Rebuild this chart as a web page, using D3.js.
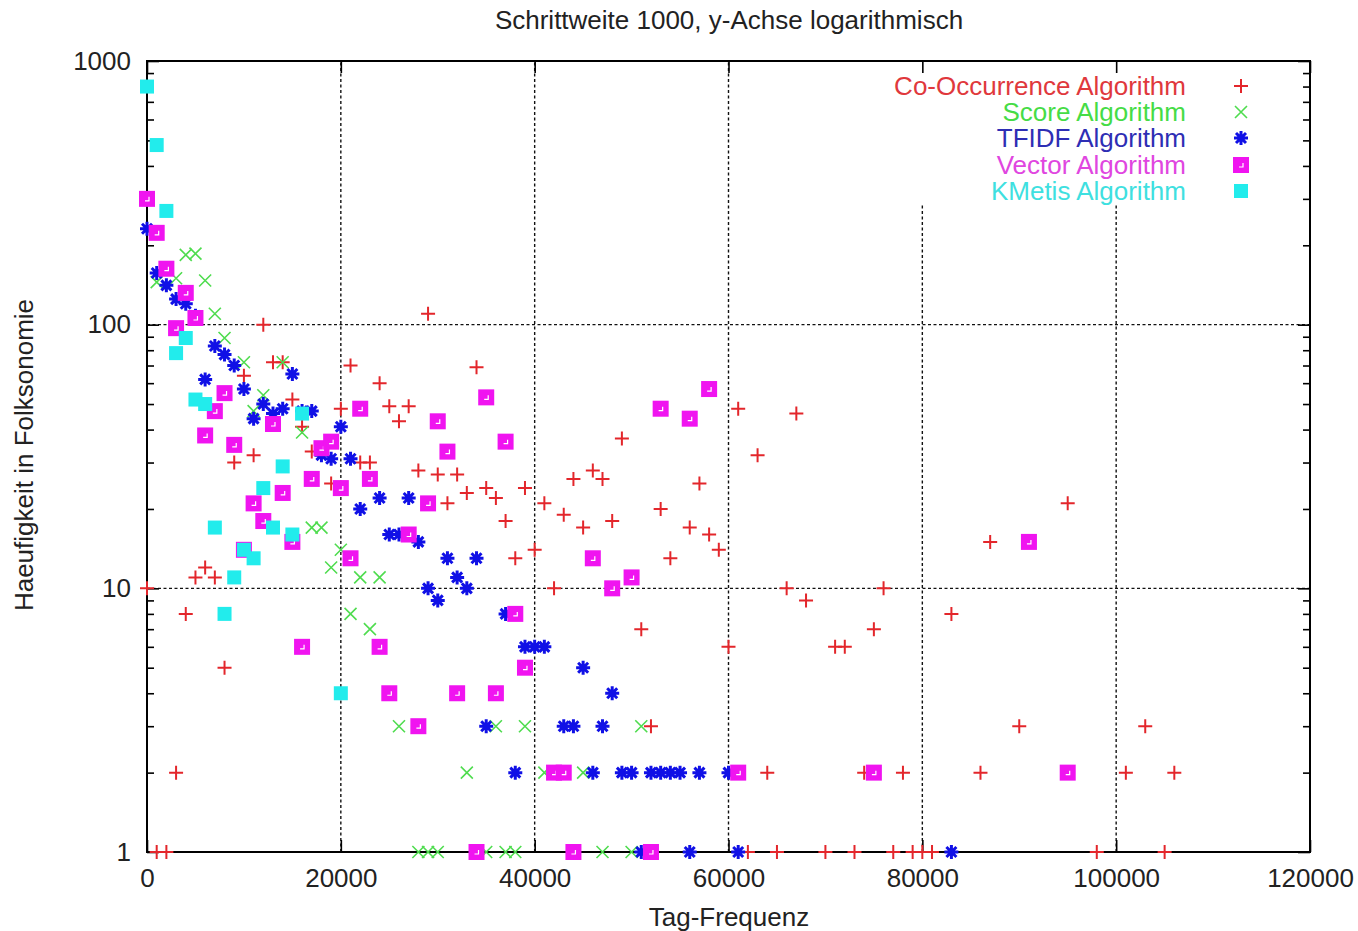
<!DOCTYPE html>
<html><head><meta charset="utf-8">
<script src="https://cdn.jsdelivr.net/npm/d3@7"></script>
<style>
body{margin:0;background:#fff}
svg{display:block}
text{font-family:"Liberation Sans",Arial,Helvetica,sans-serif}
</style>
</head><body>
<svg id="chart" width="1358" height="931"></svg>
<script>
// ---- data (x = Tag-Frequenz, y = Haeufigkeit) ----
const coOccurrence = [[0,10],[1000,1],[2000,1],[3000,2],[4000,8],[5000,11],[6000,12],[7000,11],[8000,5],[9000,30],[10000,64],[11000,32],[12000,100],[13000,72],[14000,72],[15000,52],[16000,41],[17000,33],[19000,25],[20000,48],[21000,70],[22000,30],[23000,30],[24000,60],[25000,49],[26000,43],[27000,49],[28000,28],[29000,110],[30000,27],[31000,21],[32000,27],[33000,23],[34000,69],[35000,24],[36000,22],[37000,18],[38000,13],[39000,24],[40000,14],[41000,21],[42000,10],[43000,19],[44000,26],[45000,17],[46000,28],[47000,26],[48000,18],[49000,37],[51000,7],[52000,3],[53000,20],[54000,13],[56000,17],[57000,25],[58000,16],[59000,14],[60000,6],[61000,48],[62000,1],[63000,32],[64000,2],[65000,1],[66000,10],[67000,46],[68000,9],[70000,1],[71000,6],[72000,6],[73000,1],[74000,2],[75000,7],[76000,10],[77000,1],[78000,2],[79000,1],[80000,1],[81000,1],[83000,8],[86000,2],[87000,15],[90000,3],[95000,21],[98000,1],[101000,2],[103000,3],[105000,1],[106000,2]];
const score = [[1000,145],[3000,150],[4000,184],[5000,186],[6000,147],[7000,110],[8000,89],[10000,72],[11000,47],[12000,54],[14000,72],[16000,39],[17000,17],[18000,17],[19000,12],[20000,14],[21000,8],[22000,11],[23000,7],[24000,11],[26000,3],[28000,1],[29000,1],[30000,1],[33000,2],[35000,1],[36000,3],[37000,1],[38000,1],[39000,3],[41000,2],[45000,2],[47000,1],[50000,1],[51000,3]];
const tfidf = [[0,231],[1000,157],[2000,141],[3000,125],[4000,120],[5000,108],[6000,62],[7000,83],[8000,77],[9000,70],[10000,57],[11000,44],[12000,50],[13000,46],[14000,48],[15000,65],[16000,47],[17000,47],[18000,32],[19000,31],[20000,41],[21000,31],[22000,20],[24000,22],[25000,16],[26000,16],[27000,22],[28000,15],[29000,10],[30000,9],[31000,13],[32000,11],[33000,10],[34000,13],[35000,3],[37000,8],[38000,2],[39000,6],[40000,6],[41000,6],[43000,3],[44000,3],[45000,5],[46000,2],[47000,3],[48000,4],[49000,2],[50000,2],[51000,1],[52000,2],[53000,2],[54000,2],[55000,2],[56000,1],[57000,2],[60000,2],[61000,1],[83000,1]];
const vector = [[0,300],[1000,223],[2000,163],[3000,97],[4000,132],[5000,106],[6000,38],[7000,47],[8000,55],[9000,35],[10000,14],[11000,21],[12000,18],[13000,42],[14000,23],[15000,15],[16000,6],[17000,26],[18000,34],[19000,36],[20000,24],[21000,13],[22000,48],[23000,26],[24000,6],[25000,4],[27000,16],[28000,3],[29000,21],[30000,43],[31000,33],[32000,4],[34000,1],[35000,53],[36000,4],[37000,36],[38000,8],[39000,5],[42000,2],[43000,2],[44000,1],[46000,13],[48000,10],[50000,11],[52000,1],[53000,48],[56000,44],[58000,57],[61000,2],[75000,2],[91000,15],[95000,2]];
const kmetis = [[0,800],[1000,480],[2000,270],[3000,78],[4000,89],[5000,52],[6000,50],[7000,17],[8000,8],[9000,11],[10000,14],[11000,13],[12000,24],[13000,17],[14000,29],[15000,16],[16000,46],[20000,4]];

const seriesNames = ["Co-Occurrence Algorithm","Score Algorithm","TFIDF Algorithm","Vector Algorithm","KMetis Algorithm"];
const xTicks = [0,20000,40000,60000,80000,100000,120000];
const yTicks = [1,10,100,1000];
const titleText = "Schrittweite 1000, y-Achse logarithmisch";
const xLabel = "Tag-Frequenz";
const yLabel = "Haeufigkeit in Folksonomie";

// ---- layout ----
const L = 147, R = 1310, T = 61, B = 852;
const FS = 26;
const svg = d3.select("#chart");
const x = d3.scaleLinear().domain([0,120000]).range([L,R]);
const y = d3.scaleLog().domain([1,1000]).range([B,T]);

const markerColor = ["#e3262b","#4fdc4f","#1010e6","#f014f0","#22ecec"];
const textColor = ["#e0383c","#46dc46","#2e2eb4","#e046e0","#3ee0e0"];

// legend geometry
const legRowY = [86,112,138,165,191];
const legTextX = 1186, legSymX = 1241;
const legBottom = 205;

// ---- grid ----
const grid = svg.append("g").attr("stroke","#111").attr("stroke-width",1.4).attr("stroke-dasharray","3,2.5");
xTicks.filter(t => t > 0 && t < 120000).forEach(t => {
  const top = x(t) > 860 ? legBottom : T;
  grid.append("line").attr("x1",x(t)).attr("x2",x(t)).attr("y1",B).attr("y2",top);
});
yTicks.filter(t => t > 1 && t < 1000).forEach(t => {
  grid.append("line").attr("x1",L).attr("x2",R).attr("y1",y(t)).attr("y2",y(t));
});

// ---- axes ----
const minorY = [];
for (let d = 1; d < 1000; d *= 10) for (let m = 2; m <= 9; m++) minorY.push(d*m);

function styleAxis(g){ g.select(".domain").remove(); g.selectAll(".tick line").attr("stroke","#000").attr("stroke-width",1.6); }

svg.append("g").attr("transform",`translate(${L},0)`)
  .call(d3.axisLeft(y).tickValues(minorY).tickSize(-7).tickFormat(""))
  .call(styleAxis);
svg.append("g").attr("transform",`translate(${R},0)`)
  .call(d3.axisRight(y).tickValues(minorY).tickSize(-7).tickFormat(""))
  .call(styleAxis);
const yAx = svg.append("g").attr("transform",`translate(${L},0)`)
  .call(d3.axisLeft(y).tickValues(yTicks).tickSize(-12).tickPadding(16).tickFormat(d3.format("d")))
  .call(styleAxis);
yAx.selectAll("text").attr("font-size",FS).attr("fill","#222").attr("font-family","Liberation Sans, Arial, sans-serif");
svg.append("g").attr("transform",`translate(${R},0)`)
  .call(d3.axisRight(y).tickValues(yTicks).tickSize(-12).tickFormat(""))
  .call(styleAxis);

const xAx = svg.append("g").attr("transform",`translate(0,${B})`)
  .call(d3.axisBottom(x).tickValues(xTicks).tickSize(-12).tickPadding(17).tickFormat(d3.format("d")))
  .call(styleAxis);
xAx.selectAll("text").attr("font-size",FS).attr("fill","#222").attr("font-family","Liberation Sans, Arial, sans-serif");
svg.append("g").attr("transform",`translate(0,${T})`)
  .call(d3.axisTop(x).tickValues(xTicks).tickSize(-12).tickFormat(""))
  .call(styleAxis);

// frame
svg.append("rect").attr("x",L).attr("y",T).attr("width",R-L).attr("height",B-T)
  .attr("fill","none").attr("stroke","#000").attr("stroke-width",2);

// ---- markers ----
function plus(g,cx,cy,c){ g.append("path").attr("d",`M${cx-7},${cy}H${cx+7}M${cx},${cy-7}V${cy+7}`).attr("stroke",c).attr("stroke-width",2).attr("fill","none"); }
function cross(g,cx,cy,c){ g.append("path").attr("d",`M${cx-6},${cy-6}L${cx+6},${cy+6}M${cx-6},${cy+6}L${cx+6},${cy-6}`).attr("stroke",c).attr("stroke-width",1.6).attr("fill","none"); }
function star(g,cx,cy,c){ g.append("path").attr("d",`M${cx-7},${cy}H${cx+7}M${cx},${cy-7}V${cy+7}M${cx-5},${cy-5}L${cx+5},${cy+5}M${cx-5},${cy+5}L${cx+5},${cy-5}`).attr("stroke",c).attr("stroke-width",3).attr("fill","none"); }
function vsq(g,cx,cy,c){ g.append("rect").attr("x",cx-8).attr("y",cy-8).attr("width",16).attr("height",16).attr("fill",c);
  g.append("path").attr("d",`M${cx+2},${cy-2}V${cy+2}H${cx-2}`).attr("stroke","#fff").attr("stroke-width",1.2).attr("fill","none"); }
function csq(g,cx,cy,c){ g.append("rect").attr("x",cx-7).attr("y",cy-7).attr("width",14).attr("height",14).attr("fill",c); }

const allSeries = [coOccurrence, score, tfidf, vector, kmetis];
const drawers = [plus, cross, star, vsq, csq];
allSeries.forEach((data,i) => {
  const g = svg.append("g").attr("class","series-"+i);
  data.forEach(d => drawers[i](g, x(d[0]), y(d[1]), markerColor[i]));
});

// ---- legend ----
seriesNames.forEach((n,i) => {
  svg.append("text").attr("x",legTextX).attr("y",legRowY[i]+9).attr("text-anchor","end")
    .attr("font-size",FS).attr("fill",textColor[i]).text(n);
  drawers[i](svg.append("g"), legSymX, legRowY[i], markerColor[i]);
});

// ---- titles ----
svg.append("text").attr("x",729).attr("y",29).attr("text-anchor","middle").attr("font-size",FS).attr("fill","#222").text(titleText);
svg.append("text").attr("x",729).attr("y",926).attr("text-anchor","middle").attr("font-size",FS).attr("fill","#222").text(xLabel);
svg.append("text").attr("transform","translate(33,455) rotate(-90)").attr("text-anchor","middle").attr("font-size",FS).attr("fill","#222").text(yLabel);
</script>
</body></html>
